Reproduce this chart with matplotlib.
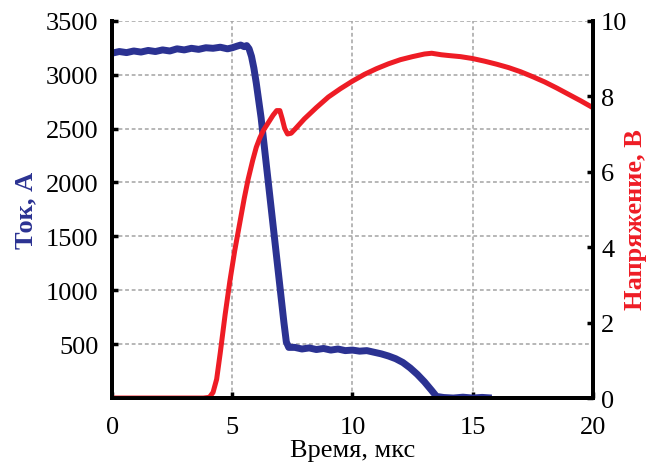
import matplotlib.pyplot as plt

# current, A
t_cur = [0.0, 0.3, 0.6, 0.9, 1.2, 1.5, 1.8, 2.1, 2.4, 2.7, 3.0, 3.3, 3.6, 3.9,
         4.2, 4.5, 4.8, 5.0, 5.2, 5.35, 5.5, 5.6, 5.7, 5.8, 5.9, 6.0, 6.2,
         6.4, 6.6, 6.8, 7.0, 7.15, 7.25, 7.35, 7.6, 7.9, 8.2, 8.5, 8.8, 9.1,
         9.4, 9.7, 10.0, 10.3, 10.6, 10.9, 11.2, 11.5, 11.8, 12.1, 12.4,
         12.7, 13.0, 13.3, 13.5, 13.8, 14.2, 14.6, 15.0, 15.4, 15.8]
current = [3200, 3215, 3205, 3220, 3210, 3225, 3215, 3230, 3220, 3240, 3230,
           3245, 3235, 3250, 3245, 3255, 3240, 3250, 3265, 3275, 3260, 3270,
           3240, 3170, 3060, 2920, 2600, 2200, 1800, 1400, 1000, 700, 520,
           470, 470, 455, 465, 450, 460, 445, 455, 440, 445, 435, 440, 425,
           410, 390, 365, 330, 280, 220, 150, 70, 15, 5, 0, 8, 0, 6, 0]

# voltage, V
t_vol = [0.0, 1.0, 2.0, 3.0, 3.8, 4.05, 4.2, 4.35, 4.5, 4.7, 4.9, 5.1, 5.3,
         5.5, 5.66, 5.85, 6.0, 6.15, 6.3, 6.5, 6.7, 6.85, 6.98, 7.08, 7.18,
         7.3, 7.45, 7.6, 8.0, 8.5, 9.0, 9.5, 10.0, 10.5, 11.0, 11.5, 12.0,
         12.5, 13.0, 13.3, 13.7, 14.0, 14.5, 15.0, 15.5, 16.0, 16.5, 17.0,
         17.5, 18.0, 18.5, 19.0, 19.5, 20.0]
voltage = [0, 0, 0, 0, 0, 0.02, 0.15, 0.5, 1.2, 2.2, 3.1, 3.9, 4.6,
           5.3, 5.8, 6.3, 6.65, 6.9, 7.1, 7.3, 7.5, 7.62, 7.62, 7.4, 7.15,
           7.0, 7.02, 7.12, 7.4, 7.7, 7.98, 8.2, 8.4, 8.58, 8.73, 8.86, 8.97,
           9.05, 9.12, 9.14, 9.1, 9.08, 9.05, 9.0, 8.93, 8.85, 8.76, 8.65,
           8.52, 8.38, 8.22, 8.05, 7.88, 7.7]

x_ticks = [0, 5, 10, 15, 20]
cur_ticks = [500, 1000, 1500, 2000, 2500, 3000, 3500]
vol_ticks = [0, 2, 4, 6, 8, 10]

plt.rcParams['font.family'] = ['Liberation Serif', 'DejaVu Serif']
blue = '#2b3292'
red = '#ee1c25'

fig = plt.figure(figsize=(6.52, 4.64), dpi=100)
ax = fig.add_axes([0.172, 0.140, 0.737, 0.813])
ax2 = ax.twinx()

ax.plot(t_cur, current, color=blue, lw=5, solid_capstyle='butt')
ax2.plot(t_vol, voltage, color=red, lw=3.6)

ax.set_xlim(0, 20)
ax.set_ylim(0, 3500)
ax2.set_ylim(0, 10)
ax.set_xticks(x_ticks)
ax.set_yticks(cur_ticks)
ax2.set_yticks(vol_ticks)

ax.grid(True, color='#a3a3a3', linestyle=(0, (2.5, 1.8)), lw=1.1)
ax.set_axisbelow(True)

for a in (ax, ax2):
    a.spines['top'].set_visible(False)
    for s in ('left', 'right', 'bottom'):
        a.spines[s].set_linewidth(2.8)
    a.tick_params(direction='in', length=4, width=2.5, labelsize=19,
                  colors='black')

ax.tick_params(axis='y', pad=10)
ax.tick_params(axis='x', pad=13)
ax2.tick_params(axis='y', pad=6)
ax.set_xlabel('Время, мкс', fontsize=19, labelpad=1)
ax.set_ylabel('Ток, А', fontsize=19, fontweight='bold', color=blue, labelpad=6)
ax2.set_ylabel('Напряжение, В', fontsize=19, fontweight='bold', color=red)
ax2.yaxis.set_label_coords(1.066, 0.475)

fig.savefig('out.png', dpi=100)
